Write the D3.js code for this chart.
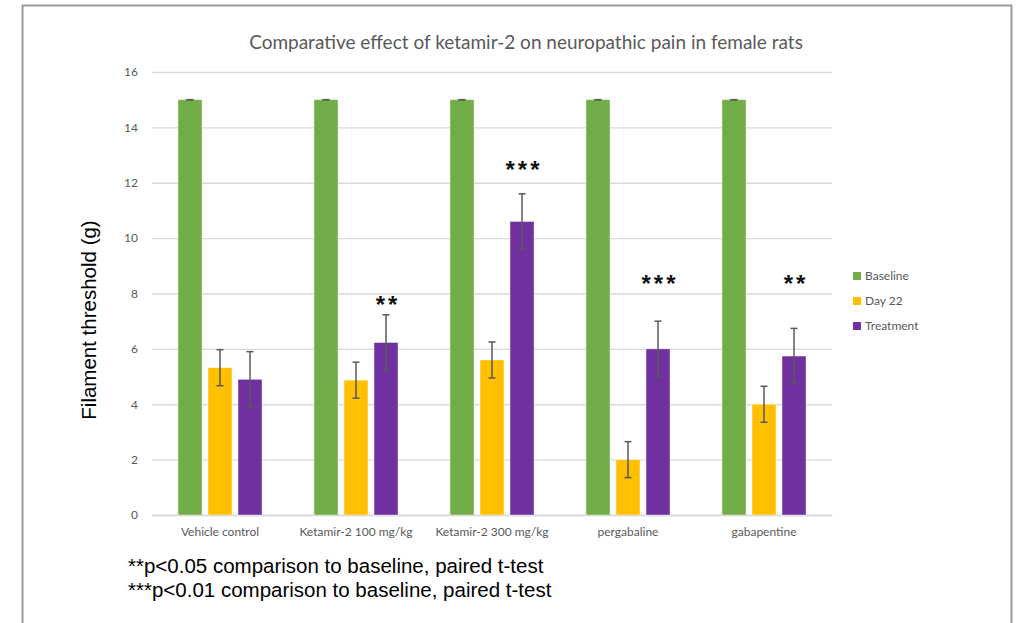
<!DOCTYPE html>
<html>
<head>
<meta charset="utf-8">
<script src="https://cdn.jsdelivr.net/npm/d3@7"></script>
<style>
  html, body { margin: 0; padding: 0; background: #ffffff; }
  svg { display: block; }
</style>
</head>
<body>
<svg id="chart" width="1025" height="623"></svg>
<script>
// ---- data ----
const categories = ["Vehicle control", "Ketamir-2 100 mg/kg", "Ketamir-2 300 mg/kg", "pergabaline", "gabapentine"];
const seriesNames = ["Baseline", "Day 22", "Treatment"];
const baselineValues = [15, 15, 15, 15, 15];
const baselineErrors = [0, 0, 0, 0, 0];
const day22Values = [5.32, 4.87, 5.6, 2.0, 4.0];
const day22Errors = [0.65, 0.65, 0.65, 0.65, 0.65];
const treatmentValues = [4.9, 6.23, 10.6, 6.0, 5.74];
const treatmentErrors = [1.0, 1.0, 1.0, 1.0, 1.0];
const significance = ["", "**", "***", "***", "**"];
const significanceY = [0, 7.68, 12.57, 8.45, 8.45];
const yTicks = [0, 2, 4, 6, 8, 10, 12, 14, 16];
const footnotes = ["**p<0.05 comparison to baseline, paired t-test", "***p<0.01 comparison to baseline, paired t-test"];
const chartTitle = "Comparative effect of ketamir-2 on neuropathic pain in female rats";
const yTitle = "Filament threshold (g)";
const colors = ["#70AD47", "#FFC000", "#7030A0"];

// ---- layout ----
const svg = d3.select("#chart");
const plot = { left: 152, right: 832, top: 72, bottom: 515 };

// frame
svg.append("path")
  .attr("d", `M22.5,${623} L22.5,5.5 L1011.5,5.5 L1011.5,${623}`)
  .attr("fill", "none").attr("stroke", "#9a9a9a").attr("stroke-width", 2);

const y = d3.scaleLinear().domain([0, 16]).range([plot.bottom, plot.top]);
const x0 = d3.scaleBand().domain(categories).range([plot.left, plot.right])
  .paddingInner(0.382).paddingOuter(0.191);
const x1 = d3.scaleBand().domain(seriesNames).range([0, x0.bandwidth()]).paddingInner(0.2);

// grid lines
const yAxis = d3.axisLeft(y).tickValues(yTicks).tickSize(-(plot.right - plot.left)).tickPadding(14);
const gy = svg.append("g").attr("transform", `translate(${plot.left},0)`).call(yAxis);
gy.select(".domain").remove();
gy.selectAll(".tick line").attr("stroke", "#d9d9d9").attr("stroke-width", 1.3);
gy.selectAll(".tick text").attr("fill", "#595959").attr("font-family", "Lato, 'Open Sans', sans-serif").attr("font-size", 12);

// x axis
const xAxis = d3.axisBottom(x0).tickSize(0).tickPadding(12);
const gx = svg.append("g").attr("transform", `translate(0,${plot.bottom})`).call(xAxis);
gx.select(".domain").attr("stroke", "#d9d9d9").attr("stroke-width", 1.3);
gx.selectAll(".tick text").attr("fill", "#595959").attr("font-family", "Lato, 'Open Sans', sans-serif").attr("font-size", 12);

// series table
const series = [
  { name: seriesNames[0], values: baselineValues, errors: baselineErrors, color: colors[0] },
  { name: seriesNames[1], values: day22Values, errors: day22Errors, color: colors[1] },
  { name: seriesNames[2], values: treatmentValues, errors: treatmentErrors, color: colors[2] }
];
const rows = [];
series.forEach(s => categories.forEach((c, i) => rows.push({ cat: c, name: s.name, v: s.values[i], e: s.errors[i], color: s.color })));

// bars
svg.append("g").selectAll("rect").data(rows).join("rect")
  .attr("x", d => x0(d.cat) + x1(d.name))
  .attr("y", d => y(d.v))
  .attr("width", x1.bandwidth())
  .attr("height", d => y(0) - y(d.v))
  .attr("fill", d => d.color)
  .attr("stroke", "#ffffff").attr("stroke-opacity", 0.5).attr("stroke-width", 0.8);

// error bars
const eg = svg.append("g").attr("stroke", "#595959").attr("stroke-width", 1.5);
rows.forEach(d => {
  const cx = x0(d.cat) + x1(d.name) + x1.bandwidth() / 2;
  const yt = y(d.v + d.e), yb = y(d.v - d.e);
  if (d.e > 0) eg.append("line").attr("x1", cx).attr("x2", cx).attr("y1", yt).attr("y2", yb);
  eg.append("line").attr("x1", cx - 3.5).attr("x2", cx + 3.5).attr("y1", yt).attr("y2", yt);
  eg.append("line").attr("x1", cx - 3.5).attr("x2", cx + 3.5).attr("y1", yb).attr("y2", yb);
});

// significance stars
svg.append("g").selectAll("text").data(categories).join("text")
  .attr("x", c => x0(c) + x1(seriesNames[2]) + x1.bandwidth() / 2 + 2)
  .attr("y", (c, i) => y(significanceY[i]) + 11)
  .attr("text-anchor", "middle")
  .attr("font-family", "'Liberation Sans', Arial, sans-serif")
  .attr("font-weight", "bold")
  .attr("font-size", 24)
  .attr("letter-spacing", 3)
  .attr("fill", "#111")
  .text((c, i) => significance[i]);

// title
svg.append("text")
  .attr("x", 526).attr("y", 49)
  .attr("text-anchor", "middle")
  .attr("font-family", "Lato, 'Open Sans', sans-serif")
  .attr("font-size", 19)
  .attr("fill", "#595959")
  .text(chartTitle);

// y title
svg.append("text")
  .attr("transform", `translate(96,320) rotate(-90)`)
  .attr("text-anchor", "middle")
  .attr("font-family", "'Liberation Sans', Arial, sans-serif")
  .attr("font-size", 20.5)
  .attr("fill", "#000")
  .text(yTitle);

// legend
const lg = svg.append("g");
series.forEach((s, i) => {
  const ly = 276 + i * 25;
  lg.append("rect").attr("x", 853).attr("y", ly - 4).attr("width", 8).attr("height", 8).attr("fill", s.color);
  lg.append("text").attr("x", 865).attr("y", ly + 4)
    .attr("font-family", "Lato, 'Open Sans', sans-serif").attr("font-size", 12)
    .attr("fill", "#595959").text(s.name);
});

// footnotes
svg.append("g").selectAll("text").data(footnotes).join("text")
  .attr("x", 128).attr("y", (d, i) => 573 + i * 24)
  .attr("font-family", "'Liberation Sans', Arial, sans-serif")
  .attr("font-size", 20.5)
  .attr("fill", "#000")
  .text(d => d);
</script>
</body>
</html>
